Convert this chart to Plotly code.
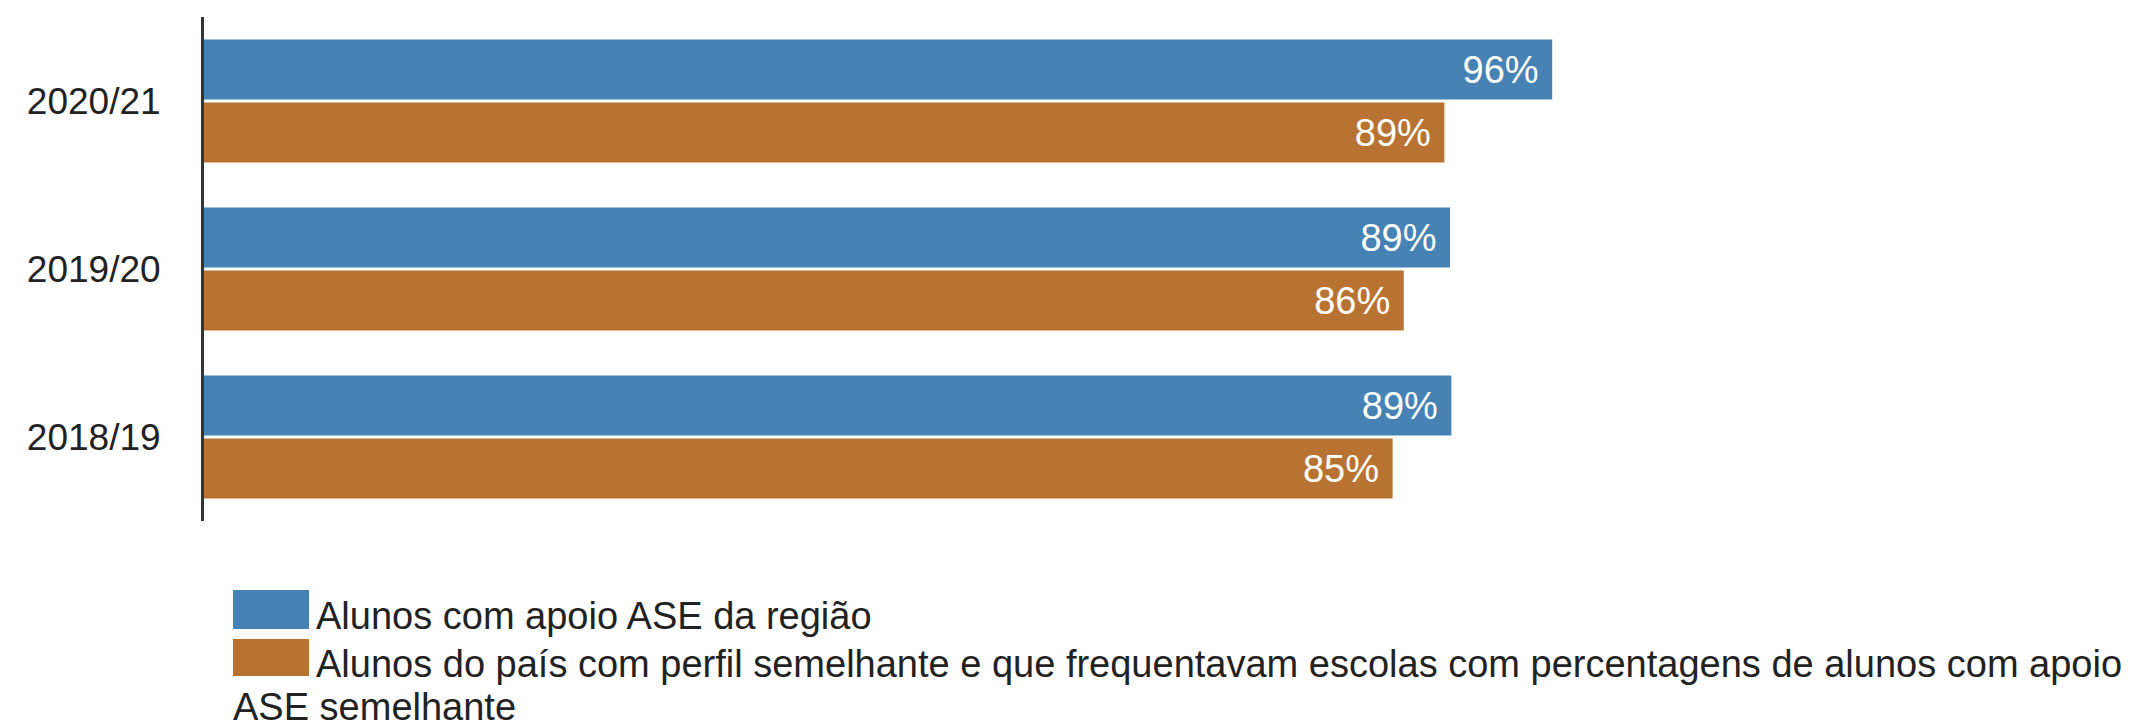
import plotly.graph_objects as go

# ---- data ----
years = ["2020/21", "2019/20", "2018/19"]
regiao = [96.3, 89.0, 89.1]
pais = [88.6, 85.7, 84.9]
series_names = [
    "Alunos com apoio ASE da região",
    "Alunos do país com perfil semelhante e que frequentavam escolas com percentagens de alunos com apoio ASE semelhante",
]
legend_lines = [
    "Alunos com apoio ASE da região",
    "Alunos do país com perfil semelhante e que frequentavam escolas com percentagens de alunos com apoio",
    "ASE semelhante",
]
colors = ["#4682B4", "#B87333"]

# ---- layout constants ----
W, H = 2133, 722
ML, MR, MT, MB = 204, 529, 17, 201
FONT = "Arial, 'Liberation Sans', sans-serif"
TXT = "#222222"

fig = go.Figure()
for vals, name, col in zip([regiao, pais], series_names, colors):
    fig.add_trace(go.Bar(
        y=years, x=vals, orientation="h", name=name,
        marker=dict(color=col, line=dict(width=0)),
        texttemplate="%{x:.0f}%\u00a0", textposition="inside",
        insidetextanchor="end", constraintext="none",
        textfont=dict(family=FONT, size=38, color="white"),
        hoverinfo="skip",
    ))

pw = W - ML - MR
ph = H - MT - MB


def px_x(px):
    return (px - ML) / pw


def px_y(py):
    return 1 - (py - MT) / ph


# custom legend (large swatches like the reference)
swatches = [(233, 309, 590, 629), (233, 309, 639, 676)]
shapes = []
for (x0, x1, y0, y1), col in zip(swatches, colors):
    shapes.append(dict(type="rect", xref="paper", yref="paper",
                       x0=px_x(x0), x1=px_x(x1), y0=px_y(y1), y1=px_y(y0),
                       fillcolor=col, line=dict(width=0), layer="above"))

text_pos = [(314, 616), (314, 664), (231, 707)]
annotations = []
for (tx, ty), line in zip(text_pos, legend_lines):
    annotations.append(dict(xref="paper", yref="paper", x=px_x(tx), y=px_y(ty),
                            xanchor="left", yanchor="middle", showarrow=False,
                            text=line, font=dict(family=FONT, size=38, color=TXT)))

fig.update_layout(
    width=W, height=H, autosize=False,
    margin=dict(l=ML, r=MR, t=MT, b=MB, pad=0),
    paper_bgcolor="white", plot_bgcolor="white",
    barmode="group", bargap=0.25, bargroupgap=0.05,
    showlegend=False,
    shapes=shapes, annotations=annotations,
    font=dict(family=FONT, color=TXT),
)
fig.update_xaxes(range=[0, 100], visible=False, showgrid=False, zeroline=False)
fig.update_yaxes(
    type="category", categoryorder="array", categoryarray=years,
    range=[2.5, -0.5], showline=True, linecolor="#333333", linewidth=3,
    ticks="", showgrid=False, zeroline=False, ticklabelstandoff=33,
    tickfont=dict(family=FONT, size=37, color=TXT),
)

fig.write_html("out.html", config={"displayModeBar": False},
               post_script="document.body.style.margin='0';")
